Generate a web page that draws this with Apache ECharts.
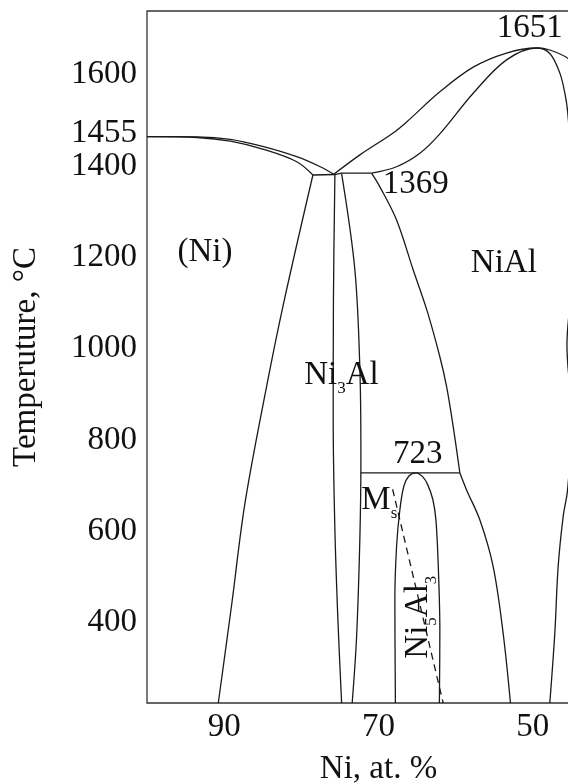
<!DOCTYPE html>
<html><head><meta charset="utf-8">
<script src="https://cdn.jsdelivr.net/npm/echarts@6/dist/echarts.min.js"></script>
<style>html,body{margin:0;padding:0;background:#fff}#c{width:568px;height:783px}</style>
</head><body><div id="c"></div>
<script>
// ---- axes ----
const xTickValues = [90, 70, 50];
const yTickValues = [400, 600, 800, 1000, 1200, 1400, 1455, 1600];
const xName = 'Ni, at. %';
const yName = 'Temperuture, °C';

// ---- phase boundaries [Ni at.%, T °C] ----
const niLiquidus   = [[100,1460],[93.5,1459.5],[89.2,1454],[84.9,1438],[80.6,1416],[77.55,1394],[75.8,1377.5]];
const niSolidus    = [[100,1460],[93.5,1458],[89.2,1450],[84.9,1432],[80.6,1405],[78.5,1376]];
const invariant1369 = [[78.5,1376],[75.7,1377],[74.8,1380],[70.9,1380]];
const niSolvus     = [[78.5,1376],[82.3,1095],[84.5,913],[87.3,658],[89.0,439],[90.76,220]];
const ni3AlLeft    = [[75.65,1377],[75.84,1102],[75.87,840],[75.65,599],[75.26,402],[74.78,220]];
const ni3AlRight   = [[74.78,1379],[73.06,1168],[72.41,949],[72.28,752],[72.41,584],[72.84,365],[73.41,220]];
const invariant723 = [[72.28,724],[59.46,724]];
const niAlLeftHigh = [[70.9,1380],[69.82,1350],[67.66,1277.5],[65.5,1168],[63.73,1080],[62.05,978],[61.18,913],[60.32,825],[59.46,724]];
const niAlLeftLow  = [[59.46,724],[58.59,686.5],[56.87,621],[55.14,518.6],[53.85,373],[52.9,220]];
const ni5Al3Dome   = [[67.81,220],[67.88,446],[67.66,562],[67.23,643],[66.71,695],[66.06,717],[65.16,724],[64.25,715],[63.6,697],[62.95,665],[62.56,621],[62.27,527],[62.05,380],[62.11,220]];
const msLine       = [[68.17,688],[61.62,220]];
const liquidusNiAl = [[75.8,1377.5],[72.41,1420],[68.1,1468],[66.36,1492],[62.05,1558],[57.73,1612],[53.41,1643],[49.48,1654],[47.8,1649.6],[45.47,1631.5],[44,1605],[42.5,1570]];
const solidusNiAl  = [[70.9,1380],[67.66,1394],[64.64,1423.5],[62.05,1466],[57.73,1555],[53.41,1628],[49.48,1654],[47.8,1642],[46.5,1599],[45.85,1555],[45.47,1511],[44.7,1321],[44.9,1146],[45.58,1004],[44.95,840],[45.5,686.5],[46.07,628],[46.72,518.6],[47.15,373.5],[47.8,220]];

// ---- annotations [Ni at.%, T °C, text] ----
const annotations = [
  [50.39, 1698, '1651'],
  [65.16, 1356, '1369'],
  [64.9, 765, '723'],
  [92.49, 1207, '(Ni)'],
  [53.76, 1183, 'NiAl'],
  [74.8, 936, '{t|Ni}{s|3}{t|Al}'],
  [69.9, 663, '{t|M}{s|s}'],
];
const rotatedAnnotations = [
  [64.77, 408, '{t|Ni}{s|5}{t|Al}{s|3}']
];

const F = '"Liberation Serif", "DejaVu Serif", serif';
const INK = '#111';
const LINE = '#1a1a1a';

function curve(data, smooth, dashed) {
  return {
    type: 'line', data: data, symbol: 'none', smooth: smooth ? 0.35 : false,
    lineStyle: { color: LINE, width: 1.3, type: dashed ? [7, 5] : 'solid' },
    silent: true, animation: false, z: 3
  };
}
const rich = {
  t: { fontSize: 33, fontFamily: F, color: INK, lineHeight: 34, verticalAlign: 'top' },
  s: { fontSize: 17, fontFamily: F, color: INK, lineHeight: 18, padding: [21, 0, 0, 0], verticalAlign: 'top' }
};
function labelSeries(list, rotate) {
  return {
    type: 'scatter', symbol: 'circle', symbolSize: 1, itemStyle: { color: '#fff', opacity: 1 }, silent: true, z: 5,
    data: list.map(a => ({ value: [a[0], a[1]], name: a[2] })),
    label: { show: true, position: 'inside', align: 'center', verticalAlign: 'middle', rotate: rotate,
      formatter: p => p.name, fontSize: 33, fontFamily: F, color: INK, opacity: 1,
      textBorderWidth: 0, textShadowBlur: 0, rich: rich },
    emphasis: { disabled: true }
  };
}

const chart = echarts.init(document.getElementById('c'), null, { renderer: 'canvas' });
chart.setOption({
  backgroundColor: '#fff',
  animation: false,
  grid: { left: 147, top: 11, width: 463, height: 692, outerBoundsMode: 'none', containLabel: false,
    show: true, borderColor: '#333', borderWidth: 1.3, backgroundColor: 'transparent' },
  xAxis: {
    type: 'value', inverse: true, min: 40, max: 100,
    axisLine: { show: false }, axisTick: { show: false }, splitLine: { show: false },
    axisLabel: { customValues: xTickValues, fontSize: 33, fontFamily: F, color: INK, margin: 8 },
    name: xName, nameLocation: 'middle', nameGap: 50,
    nameTextStyle: { fontSize: 33, fontFamily: F, color: INK }
  },
  yAxis: {
    type: 'value', min: 220, max: 1735,
    axisLine: { show: false }, axisTick: { show: false }, splitLine: { show: false },
    axisLabel: {
      customValues: yTickValues, fontSize: 33, fontFamily: F, color: INK, margin: 10,
      formatter: function (v) { return v === 1455 ? '{u|' + v + '}' : '{n|' + v + '}'; },
      rich: {
        n: { fontSize: 33, fontFamily: F, color: INK, padding: [4, 0, 0, 0] },
        u: { fontSize: 33, fontFamily: F, color: INK, padding: [0, 0, 12, 0] }
      }
    },
    name: yName, nameLocation: 'middle', nameGap: 104, nameRotate: 90,
    nameTextStyle: { fontSize: 33, fontFamily: F, color: INK }
  },
  series: [
    curve(niLiquidus, true), curve(niSolidus, true), curve(invariant1369, false),
    curve(niSolvus, true), curve(ni3AlLeft, true), curve(ni3AlRight, true),
    curve(invariant723, false), curve(niAlLeftHigh, true), curve(niAlLeftLow, true),
    curve(ni5Al3Dome, true), curve(msLine, false, true),
    curve(liquidusNiAl, true), curve(solidusNiAl, true),
    labelSeries(annotations, 0),
    labelSeries(rotatedAnnotations, 90)
  ]
});
</script></body></html>
